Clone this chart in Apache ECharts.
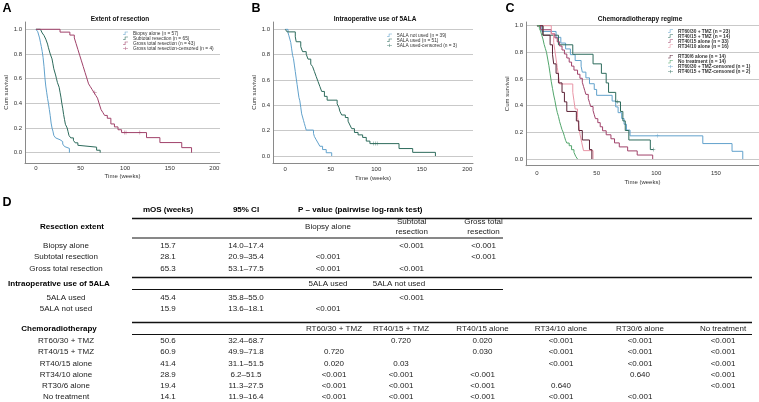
<!DOCTYPE html>
<html><head><meta charset="utf-8">
<script src="https://cdn.jsdelivr.net/npm/echarts@6/dist/echarts.min.js"></script>
<style>html,body{margin:0;padding:0;background:#fff}#c{width:759px;height:402px}</style>
</head><body><div id="c"></div>
<script>
// ---------- Panel A: Extent of resection (time in weeks, cumulative survival) ----------
const biopsyAlone = [[0,1],[2,0.98],[3,0.965],[4,0.93],[5,0.895],[6,0.86],[7,0.82],[8,0.77],[9,0.7],[10,0.61],[11,0.54],[12,0.49],[13,0.44],[14,0.4],[15,0.35],[16,0.3],[17,0.24],[18,0.2],[19,0.175],[20,0.14],[22,0.12],[24,0.105],[27,0.09],[30,0.07],[32,0.05],[34,0.035],[37.5,0]];
const subtotalResection = [[0,1],[5,0.985],[7,0.97],[9,0.95],[11,0.92],[13,0.88],[14,0.85],[16,0.8],[18,0.76],[19,0.72],[20,0.68],[22,0.63],[23,0.6],[24,0.57],[26,0.53],[27,0.49],[28,0.45],[29,0.4],[30,0.36],[31,0.31],[32,0.27],[33,0.23],[35,0.2],[36,0.17],[37,0.14],[39,0.12],[42,0.1],[44,0.08],[47,0.06],[49,0.045],[68,0.02],[72,0]];
const grossTotalResection = [[0,1],[27,0.977],[38,0.953],[43,0.93],[45,0.884],[47,0.837],[49,0.79],[51,0.744],[53,0.698],[55,0.651],[57,0.605],[59,0.558],[61,0.535],[63,0.512],[65,0.488],[67,0.465],[69,0.442],[71,0.395],[73,0.349],[75,0.326],[77,0.302],[80,0.279],[84,0.233],[88,0.209],[92,0.186],[96,0.163],[124,0.122],[139,0.082],[163.5,0.041],[174.5,0]];
const grossTotalCensored = [[66,0.488],[99,0.163],[101,0.163],[116.5,0.163]];

// ---------- Panel B: Intraoperative use of 5ALA ----------
const alaNotUsed = [[0,1],[3,0.974],[4,0.949],[5,0.923],[6,0.897],[7,0.846],[8,0.795],[9,0.769],[10,0.718],[11,0.667],[12,0.615],[13,0.564],[14,0.513],[15,0.462],[16,0.436],[17,0.385],[18,0.333],[19,0.308],[20,0.282],[21,0.256],[22,0.231],[23,0.205],[31,0.179],[32,0.154],[34,0.128],[36,0.103],[38,0.077],[41,0.051],[45,0.026],[51,0]];
const alaUsed = [[0,1],[2,0.98],[11,0.941],[12,0.902],[17,0.863],[19,0.824],[23,0.804],[25,0.765],[28,0.725],[30,0.706],[32,0.667],[34,0.627],[36,0.588],[38,0.549],[40,0.51],[43,0.471],[46,0.441],[57,0.412],[59,0.382],[60,0.353],[62,0.324],[66,0.304],[69,0.275],[71,0.245],[73,0.216],[76,0.186],[80,0.167],[85,0.147],[89,0.118],[93,0.098],[125,0.059],[140,0.029],[165,0]];
const alaUsedCensored = [[97,0.098],[99,0.098],[101,0.098]];

// ---------- Panel C: Chemoradiotherapy regime ----------
const rt60tmz = [[0,1],[4,0.957],[16,0.913],[20,0.87],[24,0.826],[28,0.783],[32,0.739],[37,0.696],[38,0.652],[41,0.609],[44,0.565],[48,0.522],[50,0.478],[63,0.435],[66,0.391],[68,0.348],[71,0.304],[73,0.261],[75,0.217],[78,0.174],[139,0.116],[163.5,0.058],[172.5,0]];
const rt40tmz = [[0,1],[5,0.929],[18,0.857],[30,0.786],[47,0.714],[54,0.643],[58,0.571],[60,0.5],[66,0.429],[70,0.357],[72,0.286],[74,0.214],[77,0.143],[95,0.071],[97.5,0.071]];
const rt40alone = [[0,1],[3,0.97],[12,0.939],[15,0.909],[17,0.879],[19,0.848],[21,0.818],[23,0.788],[25,0.758],[27,0.727],[29,0.697],[31,0.667],[34,0.636],[36,0.606],[38,0.576],[39,0.545],[40,0.515],[41,0.485],[43,0.455],[44,0.424],[45,0.394],[47,0.364],[48,0.333],[49,0.303],[51,0.273],[53,0.242],[55,0.212],[58,0.182],[62,0.152],[65,0.121],[69,0.091],[76,0.061],[84,0.03],[97,0]];
const rt34alone = [[0,1],[12,0.938],[14,0.875],[15,0.813],[16,0.75],[17,0.688],[18,0.625],[19,0.563],[30,0.5],[31,0.438],[32,0.375],[34,0.313],[35,0.25],[36,0.188],[37.5,0.125],[39,0.063],[47,0]];
const rt30alone = [[0,1],[5,0.929],[11,0.857],[13,0.786],[14,0.714],[16,0.643],[18,0.571],[21,0.5],[23,0.429],[25,0.357],[33,0.286],[35,0.214],[38,0.143],[44,0.071],[46,0]];
const noTreatment = [[0,1],[2,0.98],[3,0.96],[4,0.93],[5,0.9],[6,0.86],[7,0.83],[8,0.8],[9,0.75],[10,0.7],[11,0.64],[12,0.58],[13,0.53],[14,0.48],[15,0.44],[16,0.39],[17,0.35],[18,0.32],[19,0.28],[20,0.25],[21,0.22],[22,0.2],[23,0.17],[24,0.14],[25,0.12],[27,0.1],[29,0.07],[31,0.05],[32.5,0.02],[34,0]];
const rt60tmzCensored = [[101,0.174]];
const rt40tmzCensored = [[67.5,0.429],[97.5,0.071]];

// ---------- Legend labels ----------
const namesA = ['Biopsy alone (n = 57)','Subtotal resection (n = 65)','Gross total resection (n = 43)','Gross total resection-censored (n = 4)'];
const namesB = ['5ALA not used (n = 39)','5ALA used (n = 51)','5ALA used-censored (n = 3)'];
const namesC1 = ['RT60/30 + TMZ (n = 23)','RT40/15 + TMZ (n = 14)','RT40/15 alone (n = 33)','RT34/10 alone (n = 16)'];
const namesC2 = ['RT30/6 alone (n = 14)','No treatment (n = 14)','RT60/30 + TMZ-censored (n = 1)','RT40/15 + TMZ-censored (n = 2)'];
const panelTitles = ['Extent of resection','Intraoperative use of 5ALA','Chemoradiotherapy regime'];
const panelLetters = ['A','B','C','D'];
const xName = 'Time (weeks)';
const yName = 'Cum survival';

// ---------- Table D ----------
const tableHeaders = ['mOS (weeks)','95% CI','P – value (pairwise log-rank test)'];
const sectionTitles = ['Resection extent','Intraoperative use of 5ALA','Chemoradiotherapy'];
const resectionGroups = ['Biopsy alone','Subtotal resection','Gross total resection'];
const resectionCols = ['Biopsy alone','Subtotal\nresection','Gross total\nresection'];
const resectionMOS = ['15.7','28.1','65.3'];
const resectionCI = ['14.0–17.4','20.9–35.4','53.1–77.5'];
const resectionP = [['','<0.001','<0.001'],['<0.001','','<0.001'],['<0.001','<0.001','']];
const alaGroups = ['5ALA used','5ALA not used'];
const alaCols = ['5ALA used','5ALA not used'];
const alaMOS = ['45.4','15.9'];
const alaCI = ['35.8–55.0','13.6–18.1'];
const alaP = [['','<0.001'],['<0.001','']];
const chemoGroups = ['RT60/30 + TMZ','RT40/15 + TMZ','RT40/15 alone','RT34/10 alone','RT30/6 alone','No treatment'];
const chemoMOS = ['50.6','60.9','41.4','28.9','19.4','14.1'];
const chemoCI = ['32.4–68.7','49.9–71.8','31.1–51.5','6.2–51.5','11.3–27.5','11.9–16.4'];
const chemoP = [
  ['','0.720','0.020','<0.001','<0.001','<0.001'],
  ['0.720','','0.030','<0.001','<0.001','<0.001'],
  ['0.020','0.03','','<0.001','<0.001','<0.001'],
  ['<0.001','<0.001','<0.001','','0.640','<0.001'],
  ['<0.001','<0.001','<0.001','0.640','','<0.001'],
  ['<0.001','<0.001','<0.001','<0.001','<0.001','']
];

// ---------- styling ----------
const FONT = '"Liberation Sans", Arial, Helvetica, sans-serif';
const C_BLUE = '#62a2cc', C_TEAL = '#2d6b5c', C_MAROON = '#a0426a', C_PINK = '#e995a6', C_DARK = '#5c2236', C_GREEN = '#52a66c';
const STEP_ICON = 'path://M0,6.6H4.3V0H12V1.4H5.7V8H0Z';
const PLUS_ICON = 'path://M0,3.3H5.3V0H6.7V3.3H12V4.7H6.7V8H5.3V4.7H0Z';
const PLUS_MARK = 'path://M0,4.4H4.4V0H5.6V4.4H10V5.6H5.6V10H4.4V5.6H0Z';

const panels = [
  {grid:{left:25, top:22, width:195, height:141}, xMin:-12.3, xMax:206.4, yMin:-0.0835, yMax:1.059, titleX:120, letterX:7, lblMargin:2, nameGap:10},
  {grid:{left:273, top:22, width:200, height:141}, xMin:-13.5, xMax:206.3, yMin:-0.055, yMax:1.058, titleX:375, letterX:256, lblMargin:3, nameGap:12},
  {grid:{left:526, top:22, width:233, height:143.7}, xMin:-9.2, xMax:186.1, yMin:-0.05, yMax:1.028, titleX:640, letterX:510, lblMargin:5, nameGap:14}
];

const seriesDefs = [
  {name:namesA[0], panel:0, data:biopsyAlone, color:C_BLUE},
  {name:namesA[1], panel:0, data:subtotalResection, color:C_TEAL},
  {name:namesA[2], panel:0, data:grossTotalResection, color:C_MAROON},
  {name:namesA[3], panel:0, data:grossTotalCensored, color:C_MAROON, censor:true},
  {name:namesB[0], panel:1, data:alaNotUsed, color:C_BLUE},
  {name:namesB[1], panel:1, data:alaUsed, color:C_TEAL},
  {name:namesB[2], panel:1, data:alaUsedCensored, color:C_TEAL, censor:true},
  {name:namesC1[0], panel:2, data:rt60tmz, color:C_BLUE},
  {name:namesC1[1], panel:2, data:rt40tmz, color:C_TEAL},
  {name:namesC1[2], panel:2, data:rt40alone, color:C_MAROON},
  {name:namesC1[3], panel:2, data:rt34alone, color:C_PINK},
  {name:namesC2[0], panel:2, data:rt30alone, color:C_DARK},
  {name:namesC2[1], panel:2, data:noTreatment, color:C_GREEN},
  {name:namesC2[2], panel:2, data:rt60tmzCensored, color:C_BLUE, censor:true},
  {name:namesC2[3], panel:2, data:rt40tmzCensored, color:C_TEAL, censor:true}
];

const axisLabelStyle = {fontSize:6, fontFamily:FONT, color:'#333'};

const xAxes = panels.map((p,i)=>({
  gridIndex:i, type:'value', min:p.xMin, max:p.xMax, minInterval:50, maxInterval:50,
  axisLine:{show:true, onZero:false, lineStyle:{color:'#8a8a8a', width:1}},
  axisTick:{show:false}, splitLine:{show:false},
  axisLabel:Object.assign({margin:p.lblMargin, showMinLabel:false, showMaxLabel:false, formatter:v=>String(Math.round(v))}, axisLabelStyle),
  name:xName, nameLocation:'middle', nameGap:p.nameGap, nameTextStyle:axisLabelStyle
}));
const yAxes = panels.map((p,i)=>({
  gridIndex:i, type:'value', min:p.yMin, max:p.yMax, minInterval:0.2, maxInterval:0.2,
  axisLine:{show:true, onZero:false, lineStyle:{color:'#8a8a8a', width:1}},
  axisTick:{show:false},
  splitLine:{show:true, showMinLine:false, showMaxLine:false, lineStyle:{color:'#c9c9c9', width:1}},
  axisLabel:Object.assign({margin:3, showMinLabel:false, showMaxLabel:false, formatter:v=>v.toFixed(1)}, axisLabelStyle),
  name:yName, nameLocation:'middle', nameGap:15, nameRotate:90, nameTextStyle:axisLabelStyle
}));

const series = seriesDefs.map(s=> s.censor ? {
  name:s.name, type:'scatter', xAxisIndex:s.panel, yAxisIndex:s.panel, data:s.data,
  symbol:PLUS_MARK, symbolSize:4, itemStyle:{color:s.color}, z:4, silent:true
} : {
  name:s.name, type:'line', xAxisIndex:s.panel, yAxisIndex:s.panel, data:s.data,
  step:'end', symbol:'none', showSymbol:false, clip:false,
  lineStyle:{color:s.color, width:1}, itemStyle:{color:s.color}, z:3, silent:true
});

function legendFor(names, left, top, gap, bold){
  return {left, top, orient:'vertical', padding:0, itemGap:0, itemWidth:5, itemHeight:3.4, selectedMode:false,
    itemStyle:{borderWidth:0},
    textStyle:{fontSize:4.8, fontFamily:FONT, color:'#333', fontWeight:bold?'bold':'normal', lineHeight:gap},
    data:names.map(n=>({name:n, icon: n.indexOf('censored')>=0 ? PLUS_ICON : STEP_ICON}))};
}
const legends = [
  legendFor(namesA, 123, 30.8, 4.4, false),
  legendFor(namesB, 387, 32.8, 4.5, false),
  legendFor(namesC1, 668, 28.7, 4.2, true),
  legendFor(namesC2, 668, 54.2, 4.2, true)
];

// ---------- graphic (titles, letters, table) ----------
const g = [];
function T(x,y,text,o){
  g.push({type:'text', x:x, y:y, silent:true, z:10,
    style:Object.assign({text:text, fontSize:8, fontFamily:FONT, fill:'#222', textAlign:'center', textVerticalAlign:'middle'}, o||{})});
}
function L(x1,x2,y,w){
  g.push({type:'line', silent:true, z:10, shape:{x1:x1,y1:y,x2:x2,y2:y}, style:{stroke:'#111', lineWidth:w}});
}
panels.forEach((p,i)=>{
  T(p.letterX, 9, panelLetters[i], {fontSize:12.5, fontWeight:'bold', fill:'#000'});
  T(p.titleX, 19.3, panelTitles[i], {fontSize:6.5, fontWeight:'bold', fill:'#111'});
});
T(7, 203, panelLetters[3], {fontSize:12.5, fontWeight:'bold', fill:'#000'});

const labelX = 66, mosX = 168, ciX = 246;
T(mosX, 210, tableHeaders[0], {fontWeight:'bold', fill:'#000'});
T(ciX, 210, tableHeaders[1], {fontWeight:'bold', fill:'#000'});
T(298, 210, tableHeaders[2], {fontWeight:'bold', fill:'#000', textAlign:'left'});

// Resection extent
const pColsA = [328, 411.7, 483.5];
L(132, 752, 218.5, 1.3);
T(72, 227, sectionTitles[0], {fontWeight:'bold', fill:'#000'});
resectionCols.forEach((c,j)=>T(pColsA[j], 226.5, c, {lineHeight:10}));
L(132, 503, 238, 1);
const rowsA = [245.5, 257, 268.5];
resectionGroups.forEach((r,i)=>{
  T(labelX, rowsA[i], r); T(mosX, rowsA[i], resectionMOS[i]); T(ciX, rowsA[i], resectionCI[i]);
  resectionP[i].forEach((v,j)=>{ if(v) T(pColsA[j], rowsA[i], v); });
});

// 5ALA
L(132, 752, 277.5, 1.3);
T(59, 283.5, sectionTitles[1], {fontWeight:'bold', fill:'#000'});
const alaHeadX = [328, 399];
alaCols.forEach((c,j)=>T(alaHeadX[j], 283.5, c));
L(132, 503, 289.5, 1);
const rowsB = [297.5, 309];
alaGroups.forEach((r,i)=>{
  T(labelX, rowsB[i], r); T(mosX, rowsB[i], alaMOS[i]); T(ciX, rowsB[i], alaCI[i]);
  alaP[i].forEach((v,j)=>{ if(v) T(pColsA[j], rowsB[i], v); });
});

// Chemoradiotherapy
const pColsC = [334, 401, 482.5, 561, 640, 723];
L(132, 752, 322.5, 1.3);
T(59, 328.5, sectionTitles[2], {fontWeight:'bold', fill:'#000'});
chemoGroups.forEach((c,j)=>T(pColsC[j], 328.5, c));
L(132, 752, 334.5, 1);
chemoGroups.forEach((r,i)=>{
  const y = 341 + i*11.2;
  T(labelX, y, r); T(mosX, y, chemoMOS[i]); T(ciX, y, chemoCI[i]);
  chemoP[i].forEach((v,j)=>{ if(v) T(pColsC[j], y, v); });
});

const chart = echarts.init(document.getElementById('c'), null, {renderer:'canvas', width:759, height:402});
chart.setOption({
  animation:false,
  backgroundColor:'#ffffff',
  grid:panels.map(p=>Object.assign({containLabel:false}, p.grid)),
  xAxis:xAxes, yAxis:yAxes,
  legend:legends,
  series:series,
  graphic:g
});
</script></body></html>
